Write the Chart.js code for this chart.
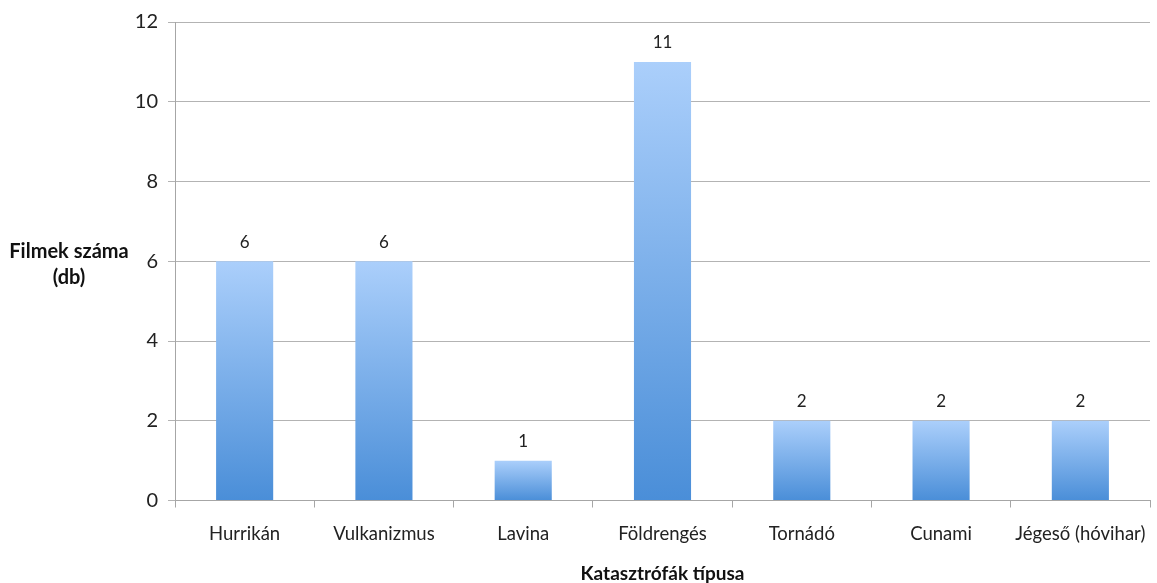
<!DOCTYPE html>
<html><head><meta charset="utf-8">
<script src="https://cdn.jsdelivr.net/npm/chart.js@4"></script>
<style>html,body{margin:0;padding:0;background:#fff}#wrap{width:1157px;height:583px;position:relative}</style>
</head><body><div id="wrap"><canvas id="c" width="1157" height="583"></canvas></div>
<script>
const categories = ["Hurrikán","Vulkanizmus","Lavina","Földrengés","Tornádó","Cunami","Jégeső (hóvihar)"];
const values = [6,6,1,11,2,2,2];
const yTicks = [0,2,4,6,8,10,12];
const yTitle = ["Filmek száma","(db)"];
const xTitle = "Katasztrófák típusa";
const FONT = "Lato, 'Open Sans', sans-serif";

const gradFill = (ctx) => {
  const chart = ctx.chart;
  const ca = chart.chartArea;
  if (!ca) return '#5b9bd5';
  const yScale = chart.scales.y;
  const base = yScale.getPixelForValue(0);
  const top = yScale.getPixelForValue(values[ctx.dataIndex]);
  if (!isFinite(top) || top === base) return '#5b9bd5';
  const g = chart.ctx.createLinearGradient(0, top, 0, base);
  g.addColorStop(0, '#abcffb');
  g.addColorStop(1, '#4a8ed8');
  return g;
};

const labelPlugin = {
  id: 'lbl',
  afterDatasetsDraw(chart) {
    const ctx = chart.ctx;
    const meta = chart.getDatasetMeta(0);
    ctx.save();
    ctx.fillStyle = '#222';
    ctx.font = "17px " + FONT;
    ctx.textAlign = 'center';
    ctx.textBaseline = 'middle';
    meta.data.forEach((bar, i) => {
      ctx.fillText(String(values[i]), bar.x, bar.y - 19);
    });
    ctx.font = "bold 20px " + FONT;
    ctx.fillStyle = '#111';
    ctx.fillText(yTitle[0], 69, 252);
    ctx.fillText(yTitle[1], 69, 278);
    ctx.restore();
  }
};

new Chart(document.getElementById('c'), {
  type: 'bar',
  data: { labels: categories, datasets: [{ data: values, backgroundColor: gradFill, barPercentage: 0.41, categoryPercentage: 1.0 }] },
  options: {
    responsive: false, animation: false,
    layout: { padding: { top: 22, right: 7, left: 0, bottom: 0 } },
    plugins: { legend: { display: false }, tooltip: { enabled: false } },
    scales: {
      x: {
        afterFit: (s) => { s.paddingLeft = 0; s.paddingRight = 0; },
        grid: { display: true, drawOnChartArea: false, drawTicks: true, tickLength: 7, color: '#a6a6a6', offset: true },
        border: { color: '#a6a6a6' },
        ticks: { color: '#222', font: { size: 18.5, family: FONT, lineHeight: 1 }, padding: 17 },
        title: { display: true, text: xTitle, color: '#111', font: { size: 19, weight: 'bold', family: FONT, lineHeight: 1 }, padding: { top: 4, bottom: 0 } }
      },
      y: {
        min: 0, max: 12,
        afterBuildTicks: (s) => { s.ticks = yTicks.map(v => ({ value: v })); },
        afterFit: (s) => { s.width = 175; s.paddingTop = 0; s.paddingBottom = 0; },
        grid: { color: '#b3b3b3', tickLength: 7 },
        border: { color: '#a6a6a6' },
        ticks: { color: '#222', font: { size: 20, family: FONT, lineHeight: 1 }, padding: 10 }
      }
    }
  },
  plugins: [labelPlugin]
});
</script></body></html>
